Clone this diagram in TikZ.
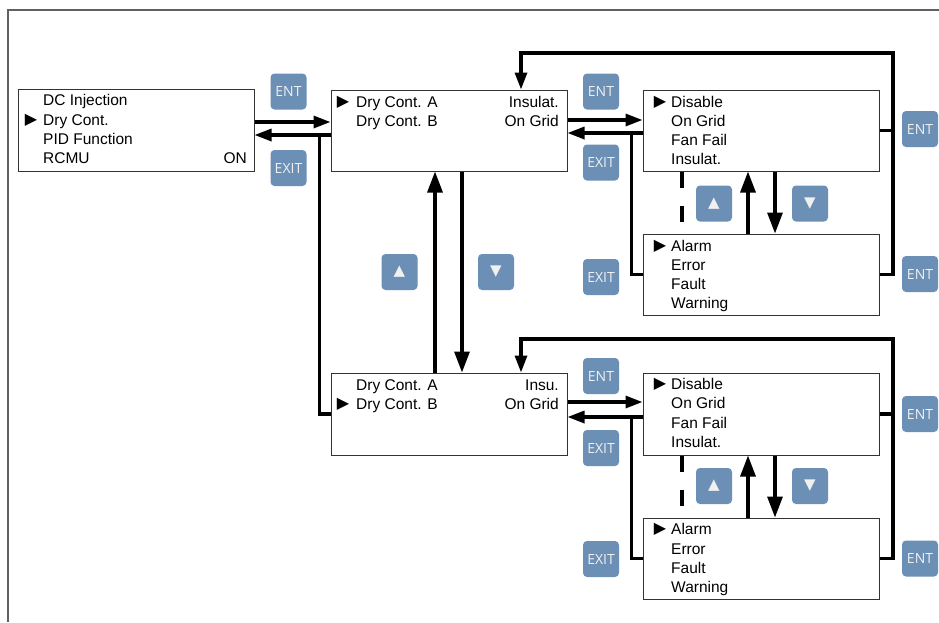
\documentclass[tikz,border=0pt]{standalone}
\usepackage{fontspec}
\setmainfont{Liberation Sans}
\newfontfamily\symfont{DejaVu Sans}
\newfontfamily\keyfont{Open Sans}
\usetikzlibrary{arrows.meta}
\definecolor{keyblue}{RGB}{107,143,181}

\begin{document}
\begin{tikzpicture}[x=1pt, y=-1pt,
    screen/.style = {rectangle, draw=black!80, line width=1pt, minimum width=236pt, minimum height=81pt, inner sep=0pt},
    row/.style = {anchor=west, inner sep=0pt, text height=10.8pt, text depth=0pt, font=\fontsize{15.5}{18}\selectfont},
    rrow/.style = {row, anchor=east},
    pointer/.style = {inner sep=0pt, font=\symfont\fontsize{16}{16}\selectfont},
    key/.style = {rectangle, rounded corners=4pt, fill=keyblue, text=white!94!black, minimum width=36pt, minimum height=36pt, inner sep=0pt, font=\keyfont\fontsize{14}{15}\selectfont},
    tri/.style = {key, font=\symfont\fontsize{15}{15}\selectfont},
    arrow/.style = {draw, line width=3.2pt, -{Triangle[length=17pt,width=12pt]}},
    varrow/.style = {draw, line width=3.2pt, -{Triangle[length=21pt,width=15pt]}},
    link/.style = {draw, line width=3.2pt},
    dashline/.style = {draw, line width=3.5pt, dash pattern=on 16pt off 18pt}
]
    \useasboundingbox (0,0) rectangle (939,622);
    \draw[black!62, line width=1.5pt] (8,622) -- (8,10) -- (939,10);

    % screens
    \node[screen, minimum height=82pt] (menu) at (136,130) {};
    \node[screen] (dcA) at (449,130.5) {};
    \node[screen, minimum height=82pt] (dcB) at (449,414) {};
    \node[screen] (selA) at (761,130.5) {};
    \node[screen] (almA) at (761,274.5) {};
    \node[screen, minimum height=82pt] (selB) at (761,414) {};
    \node[screen] (almB) at (761,558.5) {};

    % menu text
    \foreach \t [count=\i] in {DC Injection, Dry Cont., PID Function, RCMU}
        \node[row] (menu-\i) at (43, 81.2+19.3*\i) {\t};
    \node[rrow] (menu-on) at (247,158.4) {ON};
    \node[pointer] (menu-sel) at (31,120) {▶};

    \node[pointer] (dcA-sel) at (343,102) {▶};
    \node[row] (dcA-1) at (356,102) {Dry Cont. A};
    \node[row] (dcA-2) at (356,121) {Dry Cont. B};
    \node[rrow] (dcA-r1) at (559,102) {Insulat.};
    \node[rrow] (dcA-r2) at (559,121) {On Grid};

    \node[pointer] (dcB-sel) at (343,404) {▶};
    \node[row] (dcB-1) at (356,385) {Dry Cont. A};
    \node[row] (dcB-2) at (356,404) {Dry Cont. B};
    \node[rrow] (dcB-r1) at (559,385) {Insu.};
    \node[rrow] (dcB-r2) at (559,404) {On Grid};

    \foreach \t [count=\i] in {Disable, On Grid, Fan Fail, Insulat.} {
        \node[row] (selA-\i) at (671, 83+19*\i) {\t};
        \node[row] (selB-\i) at (671, 364.7+19.3*\i) {\t};
    }
    \foreach \t [count=\i] in {Alarm, Error, Fault, Warning} {
        \node[row] (almA-\i) at (671, 227+19*\i) {\t};
        \node[row] (almB-\i) at (671, 510+19.3*\i) {\t};
    }
    \node[pointer] (selA-sel) at (660,102) {▶};
    \node[pointer] (almA-sel) at (660,246) {▶};
    \node[pointer] (selB-sel) at (660,384) {▶};
    \node[pointer] (almB-sel) at (660,529) {▶};

    % keys
    \node[key] (ent1) at (288.5,91.5) {ENT};
    \node[key] (exit1) at (288.5,168) {EXIT};
    \node[key] (ent2) at (601,91.5) {ENT};
    \node[key] (exit2) at (601,162.5) {EXIT};
    \node[key] (exit3) at (601,277) {EXIT};
    \node[key] (ent4) at (601,376) {ENT};
    \node[key] (exit4) at (601,448) {EXIT};
    \node[key] (exit5) at (601,559) {EXIT};
    \node[key] (ent5) at (920,129) {ENT};
    \node[key] (ent6) at (920,274) {ENT};
    \node[key] (ent7) at (920,414) {ENT};
    \node[key] (ent8) at (920,558.5) {ENT};
    \node[tri] (up1) at (399.5,272) {▲};
    \node[tri] (down1) at (496,272) {▼};
    \node[tri] (up2) at (714,203.5) {▲};
    \node[tri] (down2) at (810,203.5) {▼};
    \node[tri] (up3) at (714,486) {▲};
    \node[tri] (down3) at (810,486) {▼};

    % menu <-> dry contacts
    \path[arrow] ([yshift=8pt]menu.east) -- ([yshift=8pt]menu.east -| dcA.west);
    \path[arrow] ([yshift=-4.5pt]dcA.west) -- ([yshift=-4.5pt]dcA.west -| menu.east);
    \path[link] (dcB.west) -- ++(-11,0) |- ([yshift=-4.5pt]dcA.west);
    \path[varrow] ([xshift=-14pt]dcB.north) -- ([xshift=-14pt]dcA.south);
    \path[varrow] ([xshift=13pt]dcA.south) -- ([xshift=13pt]dcB.north);

    % contact A
    \coordinate (loopA) at (893,53);
    \path[arrow] ([yshift=10.5pt]dcA.east) -- ([yshift=10.5pt]dcA.east -| selA.west);
    \path[arrow] ([yshift=-2.5pt]selA.west) -- ([yshift=-2.5pt]selA.west -| dcA.east);
    \path[link] (almA.west) -- ++(-11,0) |- ([yshift=-2.5pt]selA.west);
    \path[arrow] (selA.east) -| (loopA) -| ([xshift=72pt]dcA.north);
    \path[link] (almA.east) -| (selA.east -| loopA);
    \path[dashline] ([xshift=-79pt]selA.south) -- ([xshift=-79pt]almA.north);
    \path[varrow] ([xshift=-13pt]almA.north) -- ([xshift=-13pt]selA.south);
    \path[varrow] ([xshift=14pt]selA.south) -- ([xshift=14pt]almA.north);

    % contact B
    \coordinate (loopB) at (893,339);
    \path[arrow] ([yshift=12pt]dcB.east) -- ([yshift=12pt]dcB.east -| selB.west);
    \path[arrow] ([yshift=-3pt]selB.west) -- ([yshift=-3pt]selB.west -| dcB.east);
    \path[link] (almB.west) -- ++(-11,0) |- ([yshift=-3pt]selB.west);
    \path[arrow] (selB.east) -| (loopB) -| ([xshift=72pt]dcB.north);
    \path[link] (almB.east) -| (selB.east -| loopB);
    \path[dashline] ([xshift=-79pt]selB.south) -- ([xshift=-79pt]almB.north);
    \path[varrow] ([xshift=-13pt]almB.north) -- ([xshift=-13pt]selB.south);
    \path[varrow] ([xshift=14pt]selB.south) -- ([xshift=14pt]almB.north);
\end{tikzpicture}
\end{document}
